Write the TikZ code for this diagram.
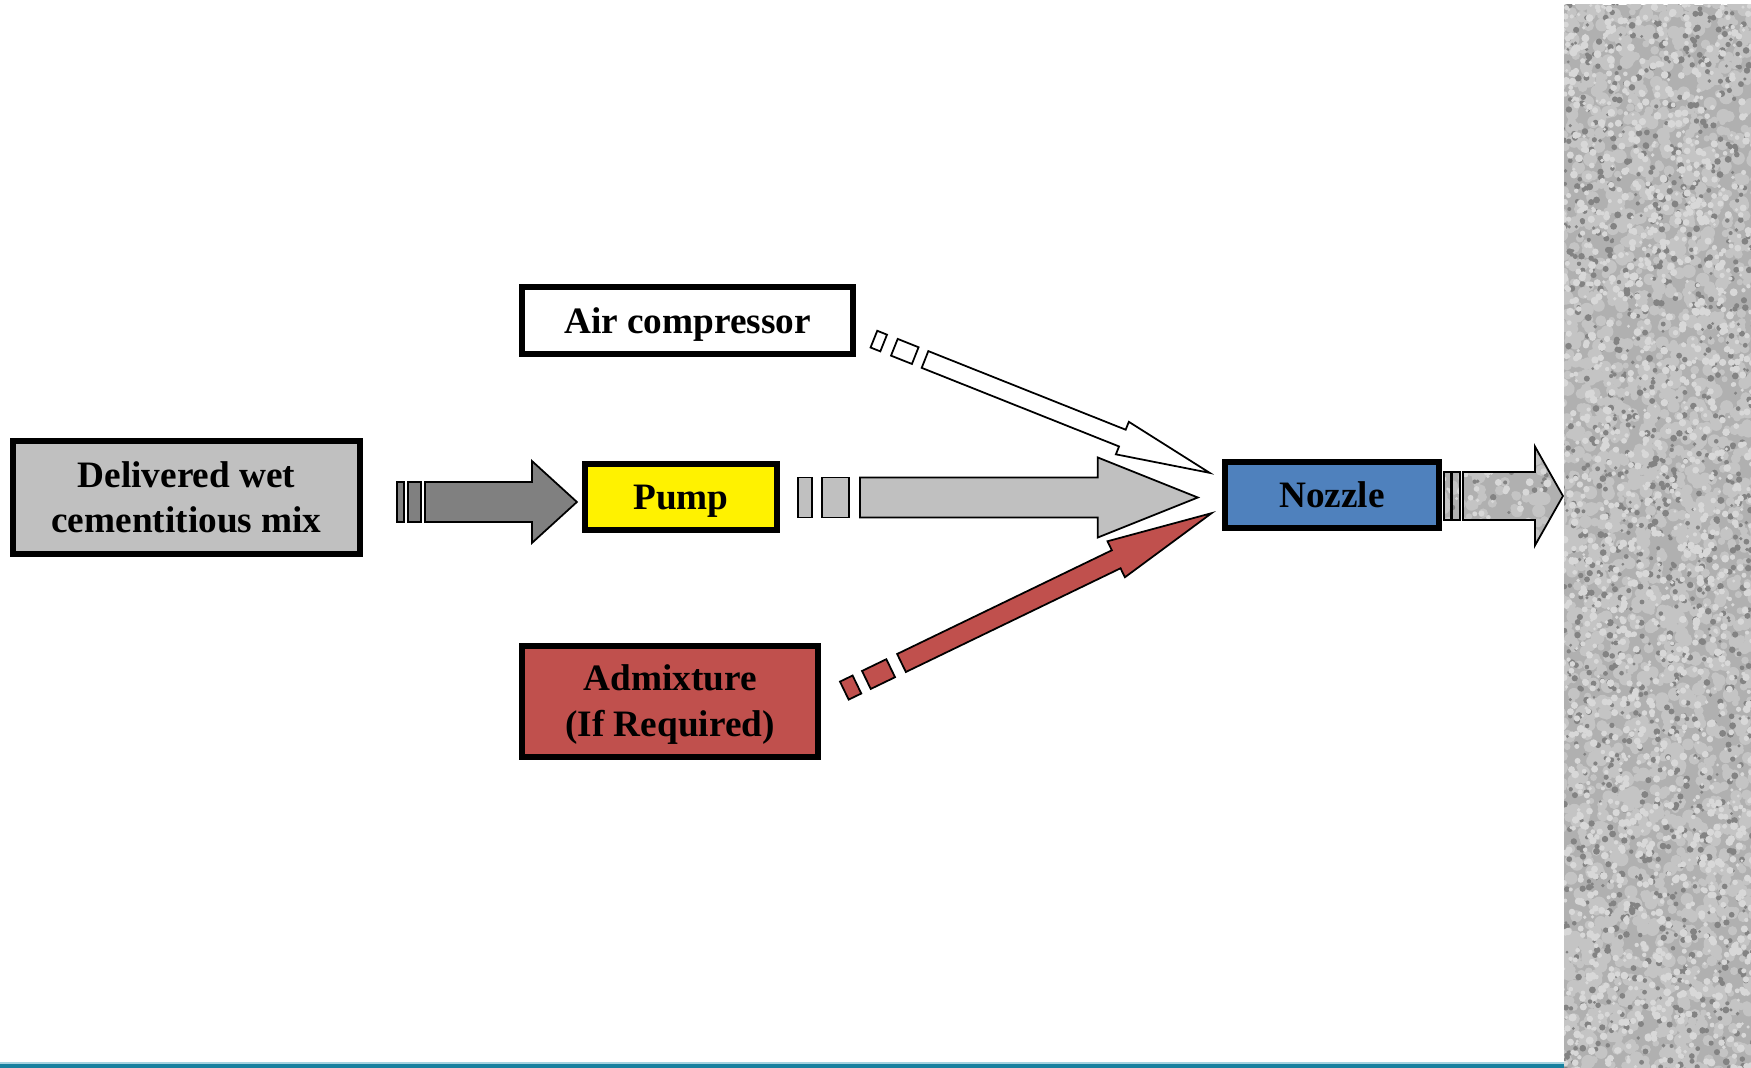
\documentclass[tikz,border=0pt]{standalone}
\usepackage{fontspec}
\setmainfont{Liberation Serif}
\usetikzlibrary{calc}
\definecolor{silv}{HTML}{C0C0C0}
\definecolor{dgray}{HTML}{808080}
\definecolor{admred}{HTML}{C0504D}
\definecolor{nozblue}{HTML}{4F81BD}
\definecolor{tealdark}{HTML}{17809F}
\definecolor{teallight}{HTML}{A6D3E0}
\definecolor{concrete}{HTML}{B0B0B0}
\definecolor{cdark}{HTML}{838383}
\definecolor{cmid}{HTML}{C4C4C4}
\definecolor{clight}{HTML}{D8D8D8}

% random concrete blobs in a box (user units of current frame)
\newcommand\concretedots[7]{% x0 x1 y0 y1 ndark nmid nlight
  \foreach \i in {1,...,#6}{%
    \pgfmathsetmacro\cx{#1+rnd*(#2-#1)}%
    \pgfmathsetmacro\cy{#3+rnd*(#4-#3)}%
    \pgfmathsetmacro\cr{3+rnd*4}%
    \fill[cmid] (\cx,\cy) circle[radius=\cr];}
  \foreach \i in {1,...,#5}{%
    \pgfmathsetmacro\cx{#1+rnd*(#2-#1)}%
    \pgfmathsetmacro\cy{#3+rnd*(#4-#3)}%
    \pgfmathsetmacro\cr{1.5+rnd*2.0}%
    \fill[cdark] (\cx,\cy) circle[radius=\cr];}
  \foreach \i in {1,...,#7}{%
    \pgfmathsetmacro\cx{#1+rnd*(#2-#1)}%
    \pgfmathsetmacro\cy{#3+rnd*(#4-#3)}%
    \pgfmathsetmacro\cr{1.5+rnd*2.5}%
    \fill[clight] (\cx,\cy) circle[radius=\cr];}
}

% block arrow: #1 start, #2 tip, #3 shaft half width, #4 head half width,
% #5 head length, #6 style, #7 stripes (from/to along axis)
\newcommand\blockarrow[7]{%
  \path let \p1=($(#2)-(#1)$) in \pgfextra{%
    \pgfmathsetmacro\baang{atan2(\y1,\x1)}%
    \pgfmathsetmacro\balen{veclen(\x1,\y1)/0.284528}%
    \global\let\baang\baang\global\let\balen\balen};
  \begin{scope}[shift={(#1)}, rotate=\baang, x=0.01cm, y=0.01cm]
    \pgfmathsetmacro\bab{\balen-#5}
    \foreach \sa/\sb in {#7}{\filldraw[#6] (\sa,-#3) rectangle (\sb,#3);}
    \filldraw[#6] (0,-#3) -- (\bab,-#3) -- (\bab,-#4) -- (\balen,0)
      -- (\bab,#4) -- (\bab,#3) -- (0,#3) -- cycle;
  \end{scope}}

\tikzset{
  box/.style={draw=black, line width=0.06cm, inner sep=0pt, align=center,
    font=\bfseries\fontsize{10.6}{12.8}\selectfont},
  boxtext/.style={inner sep=0pt, align=center,
    font=\bfseries\fontsize{10.6}{13.1}\selectfont},
  oneline/.style={text height=0.80em, text depth=0.07em},
  barrow/.style={draw=black, line width=0.5pt},
  textured/.style={barrow, fill=concrete, path picture={
    \concretedots{-40}{120}{-60}{60}{35}{100}{90}}}
}

\begin{document}
\begin{tikzpicture}[x=0.01cm, y=-0.01cm]
\pgfmathsetseed{7}
\useasboundingbox (0,0) rectangle (1751,1068);

% concrete wall
\begin{scope}
  \clip (1564,5) rectangle (1751,1068);
  \fill[concrete] (1564,5) rectangle (1751,1068);
  \concretedots{1558}{1757}{0}{1074}{1200}{2400}{1800}
\end{scope}

% bottom rule
\fill[teallight] (0,1062) rectangle (1564,1064.5);
\fill[tealdark] (0,1064.5) rectangle (1564,1068);

% boxes
\node[box, fill=silv, minimum width=3.47cm, minimum height=1.13cm] (mix) at (186.5,497.5) {Delivered wet\\cementitious mix};
\node[box, oneline, fill=white, minimum width=3.31cm, minimum height=0.67cm] (air) at (687.5,320.5) {Air compressor};
\node[box, oneline, fill=yellow, minimum width=1.92cm, minimum height=0.66cm] (pump) at (681,497) {Pump};
\node[box, fill=admred, minimum width=2.96cm, minimum height=1.11cm] (adm) at (670,701.5) {};
\node[boxtext] (admtext) at ($(adm.center)+(0,3.5)$) {Admixture\\(If Required)};
\node[box, oneline, fill=nozblue, minimum width=2.14cm, minimum height=0.66cm] (noz) at (1332,495) {Nozzle};

% connector end points
\coordinate (mixout) at (425,502);
\coordinate (pumpin) at (577,502);
\coordinate (pumpout) at (860,497.5);
\coordinate (nozin) at (1198,497.5);
\coordinate (airout) at (925,359.5);
\coordinate (noztop) at (1210,473);
\coordinate (admout) at (901.5,663);
\coordinate (nozbot) at (1212,513);
\coordinate (nozout) at (1463,496);
\coordinate (wall) at (1563,496);

% arrows
\blockarrow{mixout}{pumpin}{20}{41}{45}{barrow, fill=dgray}{-28/-21,-17/-4}
\blockarrow{pumpout}{nozin}{20}{40}{100}{barrow, fill=silv}{-62/-48,-38/-11}
\blockarrow{airout}{noztop}{9}{17.5}{94}{barrow, fill=white}{-55/-44.5,-33/-10.5}
\blockarrow{admout}{nozbot}{10}{20}{106}{barrow, fill=admred}{-63.5/-49.5,-39/-12}
\blockarrow{nozout}{wall}{24}{49.5}{28}{textured}{-19/-12,-11/-3}
\end{tikzpicture}
\end{document}
